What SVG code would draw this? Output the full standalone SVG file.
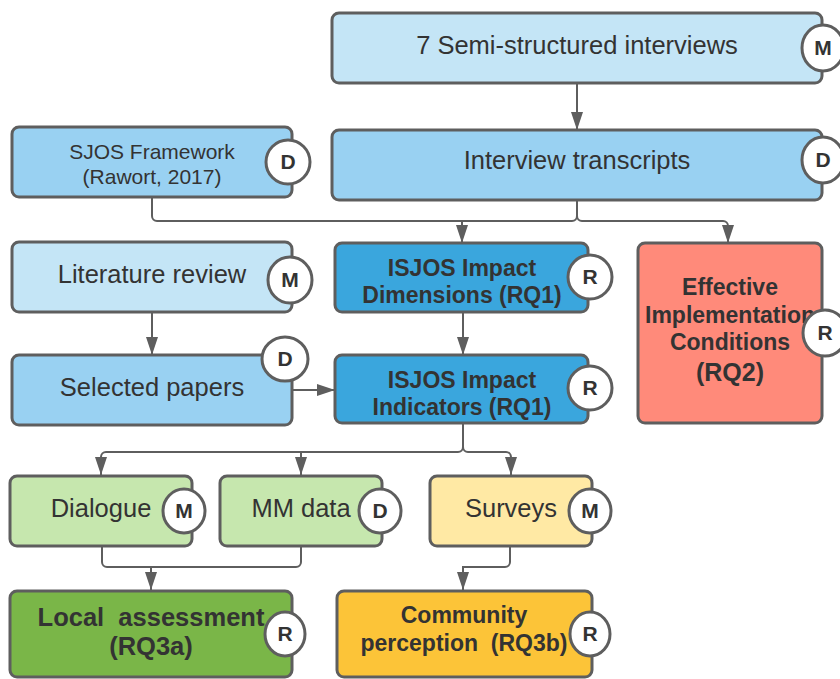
<svg xmlns="http://www.w3.org/2000/svg" width="840" height="679" viewBox="0 0 840 679">
<defs>
<marker id="arr" markerUnits="userSpaceOnUse" markerWidth="18" markerHeight="14" viewBox="0 0 18 14" refX="18" refY="7" orient="auto">
<path d="M0,1 L18,7 L0,13 Z" fill="#5e5e5e"/>
</marker>
<style>
.box{stroke:#5e5e5e;stroke-width:3}
.lb{fill:#c4e5f6}
.mb{fill:#99d1f2}
.db{fill:#3aa6dd}
.sal{fill:#ff8a7a}
.lg{fill:#c6e7ae}
.ly{fill:#ffe9a4}
.dg{fill:#7ab648}
.dy{fill:#fcc438}
.badge{fill:#ffffff;stroke:#5e5e5e;stroke-width:3}
.bl{font-family:"Liberation Sans",Arial,sans-serif;font-weight:bold;font-size:21px;fill:#333;text-anchor:middle}
.t{font-family:"Liberation Sans",Arial,sans-serif;fill:#333;text-anchor:middle;white-space:pre}
.tb{font-family:"Liberation Sans",Arial,sans-serif;font-weight:bold;fill:#333;text-anchor:middle;white-space:pre}
.c{fill:none;stroke:#5e5e5e;stroke-width:2}
</style>
</defs>
<g id="connectors">
<path class="c" d="M577,83 V130" marker-end="url(#arr)"/>
<path class="c" d="M152,197 V216 a5,5 0 0 0 5,5 H462 V243" marker-end="url(#arr)"/>
<path class="c" d="M577,200 V216 a5,5 0 0 1 -5,5 H462"/>
<path class="c" d="M577,200 V216 a5,5 0 0 0 5,5 H723 a5,5 0 0 1 5,5 V243" marker-end="url(#arr)"/>
<path class="c" d="M152,312 V355" marker-end="url(#arr)"/>
<path class="c" d="M292,390 H335" marker-end="url(#arr)"/>
<path class="c" d="M463,312 V355" marker-end="url(#arr)"/>
<path class="c" d="M463,423 V447 a5,5 0 0 1 -5,5 H106 a5,5 0 0 0 -5,5 V475" marker-end="url(#arr)"/>
<path class="c" d="M301,452 V475" marker-end="url(#arr)"/>
<path class="c" d="M463,447 a5,5 0 0 0 5,5 H506 a5,5 0 0 1 5,5 V475" marker-end="url(#arr)"/>
<path class="c" d="M102,545 V562 a5,5 0 0 0 5,5 H296 a5,5 0 0 0 5,-5 V545"/>
<path class="c" d="M151,567 V590" marker-end="url(#arr)"/>
<path class="c" d="M510,545 V562 a5,5 0 0 1 -5,5 H463 V590" marker-end="url(#arr)"/>
</g>
<g id="interviews">
<rect class="box lb" x="332" y="13" width="490" height="70" rx="7"/>
<text class="t" x="577" y="54" font-size="25.5">7 Semi-structured interviews</text>
<ellipse class="badge" cx="823" cy="48" rx="21" ry="23"/>
<text class="bl" x="823" y="55">M</text>
</g>
<g id="transcripts">
<rect class="box mb" x="332" y="130" width="490" height="70" rx="7"/>
<text class="t" x="577" y="169" font-size="25.5">Interview transcripts</text>
<ellipse class="badge" cx="823" cy="160" rx="21" ry="23"/>
<text class="bl" x="823" y="167">D</text>
</g>
<g id="sjos">
<rect class="box mb" x="12" y="127" width="280" height="70" rx="7"/>
<text class="t" x="152" y="159" font-size="21">SJOS Framework</text>
<text class="t" x="152" y="184" font-size="21">(Rawort, 2017)</text>
<ellipse class="badge" cx="288" cy="162" rx="22" ry="22"/>
<text class="bl" x="288" y="169">D</text>
</g>
<g id="literature">
<rect class="box lb" x="12" y="242" width="280" height="70" rx="7"/>
<text class="t" x="152" y="283" font-size="25.5">Literature review</text>
<ellipse class="badge" cx="290" cy="280" rx="22" ry="23"/>
<text class="bl" x="290" y="287">M</text>
</g>
<g id="papers">
<rect class="box mb" x="12" y="355" width="280" height="70" rx="7"/>
<text class="t" x="152" y="396" font-size="25.5">Selected papers</text>
<ellipse class="badge" cx="285" cy="359" rx="23" ry="22"/>
<text class="bl" x="285" y="366">D</text>
</g>
<g id="dimensions">
<rect class="box db" x="335" y="243" width="253" height="69" rx="7"/>
<text class="tb" x="462" y="276" font-size="23">ISJOS Impact</text>
<text class="tb" x="462" y="303" font-size="23">Dimensions (RQ1)</text>
<ellipse class="badge" cx="590" cy="277" rx="22" ry="22"/>
<text class="bl" x="590" y="284">R</text>
</g>
<g id="indicators">
<rect class="box db" x="335" y="355" width="253" height="68" rx="7"/>
<text class="tb" x="462" y="388" font-size="23">ISJOS Impact</text>
<text class="tb" x="462" y="415" font-size="23">Indicators (RQ1)</text>
<ellipse class="badge" cx="590" cy="388" rx="22" ry="22"/>
<text class="bl" x="590" y="395">R</text>
</g>
<g id="conditions">
<rect class="box sal" x="638" y="243" width="184" height="180" rx="7"/>
<text class="tb" x="730" y="295" font-size="23">Effective</text>
<text class="tb" x="730" y="323" font-size="23">Implementation</text>
<text class="tb" x="730" y="350" font-size="23">Conditions</text>
<text class="tb" x="730" y="381" font-size="25">(RQ2)</text>
<ellipse class="badge" cx="825" cy="333" rx="22" ry="23"/>
<text class="bl" x="825" y="340">R</text>
</g>
<g id="dialogue">
<rect class="box lg" x="10" y="476" width="182" height="70" rx="7"/>
<text class="t" x="101" y="517" font-size="25.5">Dialogue</text>
<ellipse class="badge" cx="184" cy="511" rx="21" ry="22"/>
<text class="bl" x="184" y="518">M</text>
</g>
<g id="mmdata">
<rect class="box lg" x="220" y="476" width="162" height="70" rx="7"/>
<text class="t" x="301" y="517" font-size="25.5">MM data</text>
<ellipse class="badge" cx="380" cy="511" rx="21" ry="22"/>
<text class="bl" x="380" y="518">D</text>
</g>
<g id="surveys">
<rect class="box ly" x="430" y="476" width="162" height="70" rx="7"/>
<text class="t" x="511" y="517" font-size="25.5">Surveys</text>
<ellipse class="badge" cx="590" cy="511" rx="21" ry="22"/>
<text class="bl" x="590" y="518">M</text>
</g>
<g id="local">
<rect class="box dg" x="10" y="591" width="282" height="86" rx="7"/>
<text class="tb" x="151" y="626" font-size="25.5">Local  assessment</text>
<text class="tb" x="151" y="655" font-size="25.5">(RQ3a)</text>
<ellipse class="badge" cx="285" cy="634" rx="20" ry="22"/>
<text class="bl" x="285" y="641">R</text>
</g>
<g id="community">
<rect class="box dy" x="337" y="591" width="255" height="86" rx="7"/>
<text class="tb" x="464" y="623" font-size="23">Community</text>
<text class="tb" x="464" y="651" font-size="23">perception  (RQ3b)</text>
<ellipse class="badge" cx="590" cy="634" rx="20" ry="22"/>
<text class="bl" x="590" y="641">R</text>
</g>
</svg>
